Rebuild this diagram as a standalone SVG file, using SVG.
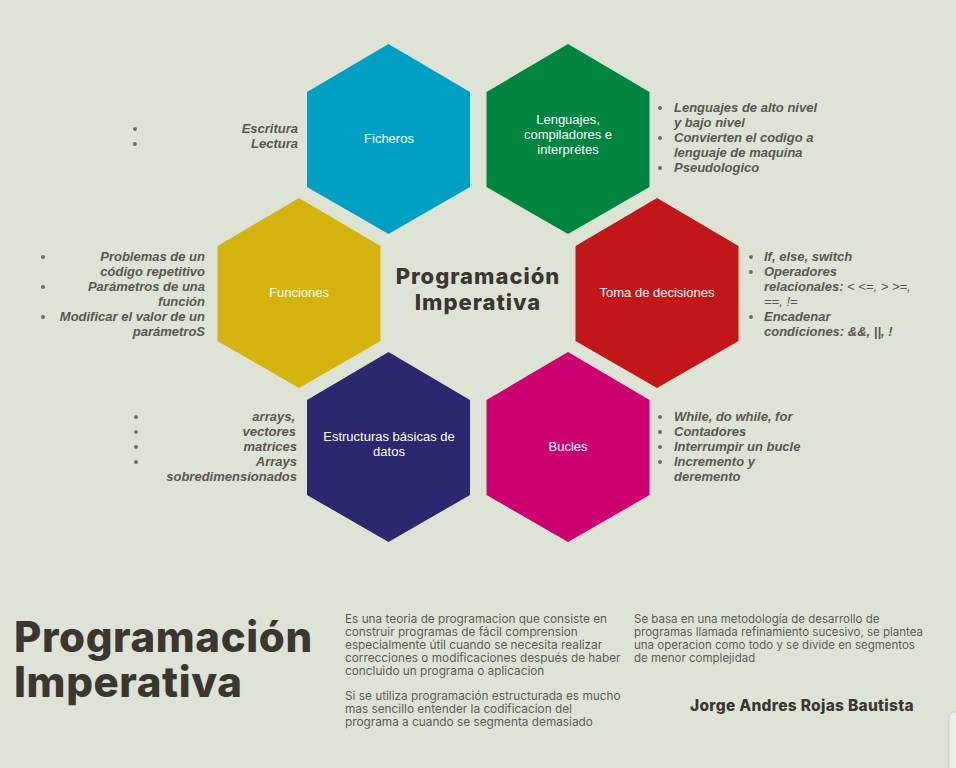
<svg xmlns="http://www.w3.org/2000/svg" width="956" height="768" viewBox="0 0 956 768">
<style>
.hx{font-family:"Liberation Sans",Arial,sans-serif;font-size:13px;fill:#fff;text-anchor:middle}
.sd{font-family:"Liberation Sans",Arial,sans-serif;font-size:13px;font-weight:bold;font-style:italic;fill:#5b5651}
.r{text-anchor:end}
.lt{font-weight:normal}
.bd{font-family:Inter,"Liberation Sans",sans-serif;font-size:11.8px;fill:#5e5a55}
.bd2{font-family:Inter,"Liberation Sans",sans-serif;font-size:11.5px;fill:#5e5a55}
.tt{font-family:Inter,"Liberation Sans",sans-serif;font-weight:800;fill:#3b3631}
.dot{fill:#6e6a64}
</style>
<defs>
<polygon id="hex" points="0,-95 81.5,-47 81.5,48 0,95 -81.5,48 -81.5,-47"/>
</defs>
<rect width="956" height="768" fill="#dee4d5"/>
<rect x="949" y="712" width="14" height="64" rx="6" fill="#eef1ea" stroke="#c9cdc4"/>

<g id="ficheros">
<use href="#hex" x="388.5" y="139" fill="#00a0c5"/>
<text class="hx" x="389" y="143">Ficheros</text>
</g>
<g id="lenguajes">
<use href="#hex" x="568" y="139" fill="#008540"/>
<text class="hx" x="568" y="124">Lenguajes,</text>
<text class="hx" x="568" y="139">compiladores e</text>
<text class="hx" x="568" y="154">interprétes</text>
</g>
<g id="funciones">
<use href="#hex" x="299" y="293" fill="#d4b30f"/>
<text class="hx" x="299" y="297">Funciones</text>
</g>
<g id="toma">
<use href="#hex" x="657" y="293" fill="#c11718"/>
<text class="hx" x="657" y="297">Toma de decisiones</text>
</g>
<g id="estructuras">
<use href="#hex" x="388.5" y="447" fill="#2b2870"/>
<text class="hx" x="389" y="441">Estructuras básicas de</text>
<text class="hx" x="389" y="456">datos</text>
</g>
<g id="bucles">
<use href="#hex" x="568" y="447" fill="#cc0070"/>
<text class="hx" x="568" y="451">Bucles</text>
</g>

<g id="center-title">
<text class="tt" font-size="22" text-anchor="middle" letter-spacing="1"><tspan x="478" y="284">Programación</tspan><tspan x="478" y="310">Imperativa</tspan></text>
</g>

<g id="ficheros-list">
<circle class="dot" cx="135" cy="129" r="2"/><circle class="dot" cx="135" cy="144" r="2"/>
<text class="sd r" x="298" y="133">Escritura</text>
<text class="sd r" x="298" y="148">Lectura</text>
</g>
<g id="lenguajes-list">
<circle class="dot" cx="660" cy="108" r="2"/><circle class="dot" cx="660" cy="138" r="2"/><circle class="dot" cx="660" cy="168" r="2"/>
<text class="sd" x="674" y="112">Lenguajes de alto nivel</text>
<text class="sd" x="674" y="127">y bajo nivel</text>
<text class="sd" x="674" y="142">Convierten el codigo a</text>
<text class="sd" x="674" y="157">lenguaje de maquina</text>
<text class="sd" x="674" y="172">Pseudologico</text>
</g>
<g id="funciones-list">
<circle class="dot" cx="43" cy="257" r="2"/><circle class="dot" cx="43" cy="287" r="2"/><circle class="dot" cx="43" cy="317" r="2"/>
<text class="sd r" x="205" y="261">Problemas de un</text>
<text class="sd r" x="205" y="276">código repetitivo</text>
<text class="sd r" x="205" y="291">Parámetros de una</text>
<text class="sd r" x="205" y="306">función</text>
<text class="sd r" x="205" y="321">Modificar el valor de un</text>
<text class="sd r" x="205" y="336">parámetroS</text>
</g>
<g id="toma-list">
<circle class="dot" cx="751" cy="257" r="2"/><circle class="dot" cx="751" cy="272" r="2"/><circle class="dot" cx="751" cy="317" r="2"/>
<text class="sd" x="764" y="261">If, else, switch</text>
<text class="sd" x="764" y="276">Operadores</text>
<text class="sd" x="764" y="291">relacionales: <tspan class="lt">&lt; &lt;=, &gt; &gt;=,</tspan></text>
<text class="sd lt" x="764" y="306">==, !=</text>
<text class="sd" x="764" y="321">Encadenar</text>
<text class="sd" x="764" y="336">condiciones: &amp;&amp;, ||, !</text>
</g>
<g id="estructuras-list">
<circle class="dot" cx="136" cy="417" r="2"/><circle class="dot" cx="136" cy="432" r="2"/><circle class="dot" cx="136" cy="447" r="2"/><circle class="dot" cx="136" cy="462" r="2"/>
<text class="sd r" x="295" y="421">arrays,</text>
<text class="sd r" x="296" y="436">vectores</text>
<text class="sd r" x="297" y="451">matrices</text>
<text class="sd r" x="297" y="466">Arrays</text>
<text class="sd r" x="297" y="481">sobredimensionados</text>
</g>
<g id="bucles-list">
<circle class="dot" cx="660" cy="417" r="2"/><circle class="dot" cx="660" cy="432" r="2"/><circle class="dot" cx="660" cy="447" r="2"/><circle class="dot" cx="660" cy="462" r="2"/>
<text class="sd" x="674" y="421">While, do while, for</text>
<text class="sd" x="674" y="436">Contadores</text>
<text class="sd" x="674" y="451">Interrumpir un bucle</text>
<text class="sd" x="674" y="466">Incremento y</text>
<text class="sd" x="674" y="481">deremento</text>
</g>

<g id="bottom-title">
<text class="tt" font-size="42" letter-spacing="0.6"><tspan x="14" y="652">Programación</tspan><tspan x="14" y="697">Imperativa</tspan></text>
</g>
<g id="desc-left">
<text class="bd" x="345" y="623">Es una teoria de programacion que consiste en</text>
<text class="bd" x="345" y="636">construir programas de fácil comprension</text>
<text class="bd" x="345" y="649">especialmente útil cuando se necesita realizar</text>
<text class="bd" x="345" y="662">correcciones o modificaciones después de haber</text>
<text class="bd" x="345" y="675">concluido un programa o aplicacion</text>
<text class="bd" x="345" y="700">Si se utiliza programación estructurada es mucho</text>
<text class="bd" x="345" y="713">mas sencillo entender la codificacion del</text>
<text class="bd" x="345" y="726">programa a cuando se segmenta demasiado</text>
</g>
<g id="desc-right">
<text class="bd2" x="634" y="623">Se basa en una metodología de desarrollo de</text>
<text class="bd2" x="634" y="636">programas llamada refinamiento sucesivo, se plantea</text>
<text class="bd2" x="634" y="649">una operacion como todo y se divide en segmentos</text>
<text class="bd2" x="634" y="662">de menor complejidad</text>
</g>
<g id="author">
<text class="tt" x="690" y="711" font-size="15.5" font-weight="700" letter-spacing="0.3">Jorge Andres Rojas Bautista</text>
</g>
</svg>
